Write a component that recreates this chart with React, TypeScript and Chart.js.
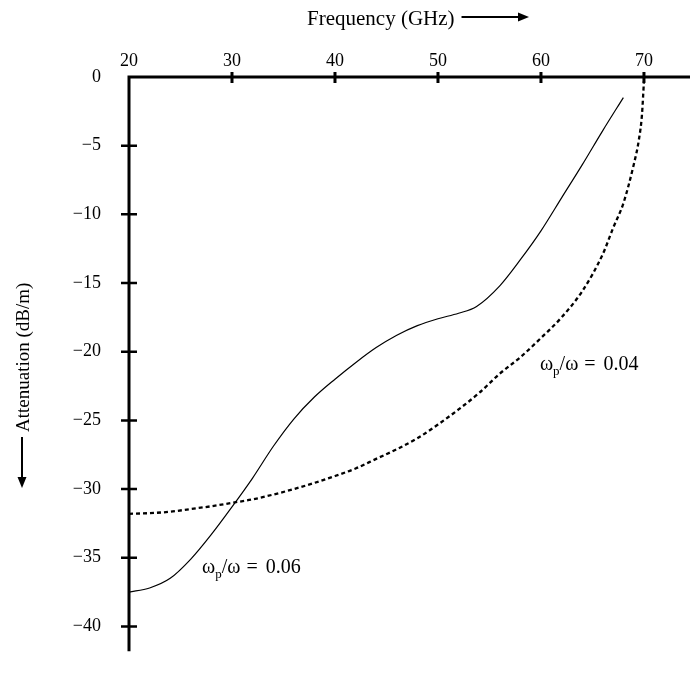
import React, { useEffect, useRef } from "react";
import { Chart, registerables } from "chart.js";

Chart.register(...registerables);

// Frequency (GHz) / attenuation (dB/m)
const solidFreq = [20, 22, 24, 26, 28, 30, 32, 34, 36, 38, 40, 42, 44, 46, 48, 50, 52, 53.75, 56, 58, 60, 62, 64, 66, 68];
const solidAtten = [-37.5, -37.2, -36.5, -35.1, -33.3, -31.3, -29.2, -26.9, -24.9, -23.3, -22.0, -20.8, -19.7, -18.8, -18.1, -17.6, -17.2, -16.7, -15.2, -13.3, -11.2, -8.8, -6.4, -3.9, -1.5];

const dashedFreq = [20, 22, 24, 26, 28, 30, 32, 34, 36, 38, 40, 42, 44, 46, 48, 50, 52, 54, 56, 58, 60, 62, 64, 66, 67, 68, 69, 69.5, 69.8, 70];
const dashedAtten = [-31.8, -31.75, -31.65, -31.45, -31.25, -31.0, -30.75, -30.4, -30.0, -29.55, -29.05, -28.5, -27.8, -27.1, -26.3, -25.3, -24.2, -23.0, -21.6, -20.4, -19.0, -17.5, -15.6, -12.9, -11.0, -9.2, -6.4, -4.6, -2.8, -0.3];

const xTicks = [20, 30, 40, 50, 60, 70];
const yTicks = [0, -5, -10, -15, -20, -25, -30, -35, -40];

const xTitle = "Frequency (GHz)";
const yTitle = "Attenuation (dB/m)";
const label06 = { freq: 27.1, atten: -36.1, value: "0.06" };
const label04 = { freq: 59.9, atten: -21.3, value: "0.04" };

const FONT = '"Liberation Serif", "Times New Roman", serif';

function drawArrowHead(ctx: CanvasRenderingContext2D, tx: number, ty: number, dir: "right" | "down") {
  ctx.beginPath();
  if (dir === "right") {
    ctx.moveTo(tx, ty);
    ctx.lineTo(tx - 11, ty - 4.5);
    ctx.lineTo(tx - 11, ty + 4.5);
  } else {
    ctx.moveTo(tx, ty);
    ctx.lineTo(tx - 4.5, ty - 11);
    ctx.lineTo(tx + 4.5, ty - 11);
  }
  ctx.closePath();
  ctx.fill();
}

function drawOmegaLabel(ctx: CanvasRenderingContext2D, x: number, y: number, value: string) {
  ctx.textAlign = "left";
  ctx.textBaseline = "alphabetic";
  ctx.font = `20px ${FONT}`;
  ctx.fillText("ω", x, y);
  let cx = x + ctx.measureText("ω").width;
  ctx.font = `13px ${FONT}`;
  ctx.fillText("p", cx, y + 5);
  cx += ctx.measureText("p").width;
  ctx.font = `20px ${FONT}`;
  ctx.fillText("/ω", cx, y);
  cx += ctx.measureText("/ω").width + 6;
  ctx.fillText("=", cx, y);
  cx += ctx.measureText("=").width + 8;
  ctx.fillText(value, cx, y);
}

const axesPlugin = {
  id: "customAxes",
  afterDatasetsDraw(chart: any) {
    const ctx: CanvasRenderingContext2D = chart.ctx;
    const xs = chart.scales.x;
    const ys = chart.scales.y;
    const area = chart.chartArea;
    const x0 = xs.getPixelForValue(20);
    const y0 = ys.getPixelForValue(0);
    ctx.save();
    ctx.strokeStyle = "#000";
    ctx.fillStyle = "#000";
    ctx.lineCap = "butt";
    // axis lines
    ctx.lineWidth = 3;
    ctx.beginPath();
    ctx.moveTo(x0 - 1.5, y0);
    ctx.lineTo(area.right, y0);
    ctx.moveTo(x0, y0);
    ctx.lineTo(x0, area.bottom + 1);
    ctx.stroke();
    // x ticks
    ctx.lineWidth = 3;
    ctx.beginPath();
    xTicks.forEach((v) => {
      if (v === 20) return;
      const px = xs.getPixelForValue(v);
      ctx.moveTo(px, y0 - 5);
      ctx.lineTo(px, y0 + 6);
    });
    ctx.stroke();
    // y ticks
    ctx.lineWidth = 2.5;
    ctx.beginPath();
    yTicks.forEach((v) => {
      if (v === 0) return;
      const py = ys.getPixelForValue(v);
      ctx.moveTo(x0 - 8, py);
      ctx.lineTo(x0 + 8, py);
    });
    ctx.stroke();

    // x title with arrow
    ctx.font = `21px ${FONT}`;
    ctx.textAlign = "left";
    ctx.textBaseline = "middle";
    const tx = 307;
    ctx.fillText(xTitle, tx, 19);
    const tw = ctx.measureText(xTitle).width;
    ctx.lineWidth = 2;
    ctx.beginPath();
    ctx.moveTo(tx + tw + 7, 17);
    ctx.lineTo(520, 17);
    ctx.stroke();
    drawArrowHead(ctx, 529, 17, "right");

    // y title with arrow
    ctx.font = `19px ${FONT}`;
    ctx.save();
    ctx.translate(24, 432);
    ctx.rotate(-Math.PI / 2);
    ctx.textAlign = "left";
    ctx.textBaseline = "middle";
    ctx.fillText(yTitle, 0, 0);
    ctx.restore();
    ctx.lineWidth = 2;
    ctx.beginPath();
    ctx.moveTo(22, 437);
    ctx.lineTo(22, 478);
    ctx.stroke();
    drawArrowHead(ctx, 22, 488, "down");

    // curve labels
    drawOmegaLabel(ctx, xs.getPixelForValue(label06.freq), ys.getPixelForValue(label06.atten), label06.value);
    drawOmegaLabel(ctx, xs.getPixelForValue(label04.freq), ys.getPixelForValue(label04.atten), label04.value);
    ctx.restore();
  },
};

export default function App() {
  const canvasRef = useRef<HTMLCanvasElement | null>(null);

  useEffect(() => {
    if (!canvasRef.current) return;
    const solid = solidFreq.map((f, i) => ({ x: f, y: solidAtten[i] }));
    const dashed = dashedFreq.map((f, i) => ({ x: f, y: dashedAtten[i] }));
    const chart = new Chart(canvasRef.current, {
      type: "line",
      data: {
        datasets: [
          {
            label: "ωp/ω = 0.06",
            data: solid,
            borderColor: "#000",
            borderWidth: 1.2,
            pointRadius: 0,
            cubicInterpolationMode: "monotone",
            fill: false,
          },
          {
            label: "ωp/ω = 0.04",
            data: dashed,
            borderColor: "#000",
            borderWidth: 2.3,
            borderDash: [4, 3],
            pointRadius: 0,
            cubicInterpolationMode: "monotone",
            fill: false,
          },
        ],
      },
      options: {
        animation: false,
        responsive: false,
        devicePixelRatio: 1,
        layout: { padding: { left: 0, top: 0, right: 6, bottom: 1 } },
        plugins: { legend: { display: false }, tooltip: { enabled: false }, title: { display: false } },
        scales: {
          x: {
            type: "linear",
            position: "top",
            min: 20,
            max: 74.47,
            grid: { display: false },
            border: { display: false },
            afterBuildTicks: (s: any) => {
              s.ticks = xTicks.map((v) => ({ value: v }));
            },
            afterFit: (s: any) => {
              s.height = 77;
            },
            ticks: {
              color: "#000",
              font: { family: FONT, size: 18 },
              padding: -3,
              maxRotation: 0,
              autoSkip: false,
            },
          },
          y: {
            type: "linear",
            position: "left",
            min: -41.73,
            max: 0,
            grid: { display: false },
            border: { display: false },
            afterBuildTicks: (s: any) => {
              s.ticks = yTicks.map((v) => ({ value: v }));
            },
            afterFit: (s: any) => {
              s.width = 129;
            },
            ticks: {
              color: "#000",
              font: { family: FONT, size: 18 },
              padding: 20,
              autoSkip: false,
              callback: (v: any) => (Number(v) < 0 ? "\u2212" + Math.abs(Number(v)) : String(v)),
            },
          },
        },
      },
      plugins: [axesPlugin],
    });
    return () => chart.destroy();
  }, []);

  return (
    <div style={{ position: "fixed", left: 0, top: 0, width: 696, height: 681, background: "#fff" }}>
      <canvas ref={canvasRef} width={696} height={681} />
    </div>
  );
}
